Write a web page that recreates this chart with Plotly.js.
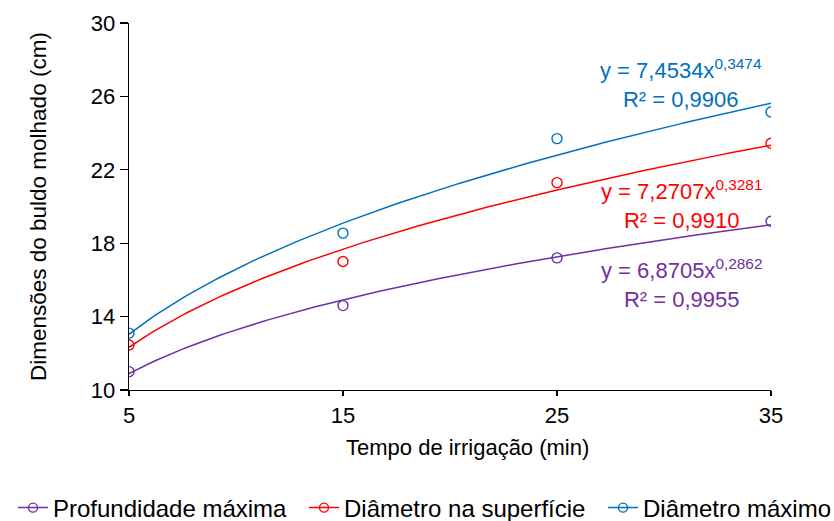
<!DOCTYPE html>
<html>
<head>
<meta charset="utf-8">
<script src="https://cdn.plot.ly/plotly-3.0.1.min.js"></script>
<style>html,body{margin:0;padding:0;background:#fff;}#chart{width:834px;height:521px;}</style>
</head>
<body>
<div id="chart"></div>
<script>
// Data
var tempo = [5, 15, 25, 35];
var profundidade = [11.0, 14.6, 17.2, 19.2];
var diametroSuperficie = [12.45, 17.0, 21.3, 23.45];
var diametroMaximo = [13.1, 18.55, 23.7, 25.15];

var seriesNames = ["Profundidade máxima", "Diâmetro na superfície", "Diâmetro máximo"];
// Power trendline coefficients shown on the chart (y = a x^b)
var coefA = [6.8705, 7.2707, 7.4534];
var coefB = [0.2862, 0.3281, 0.3474];
var r2Text = ["0,9955", "0,9910", "0,9906"];
var aText = ["6,8705", "7,2707", "7,4534"];
var bText = ["0,2862", "0,3281", "0,3474"];
var xTicks = [5, 15, 25, 35];
var yTicks = [10, 14, 18, 22, 26, 30];

var colors = ["#7030A0", "#FF0000", "#0070C0"];
var seriesValues = [profundidade, diametroSuperficie, diametroMaximo];
var FONT = "Liberation Sans, Arial, sans-serif";
var legendIds = ["legend", "legend2", "legend3"];

var traces = [];
var fitX = [];
for (var t = 5; t <= 35.0001; t += 0.25) fitX.push(t);

for (var i = 0; i < 3; i++) {
  var fy = fitX.map(function (x) { return coefA[i] * Math.pow(x, coefB[i]); });
  traces.push({
    x: fitX, y: fy, mode: "lines", type: "scatter",
    line: {color: colors[i], width: 1.5}, showlegend: false, hoverinfo: "skip"
  });
}
for (var i = 0; i < 3; i++) {
  traces.push({
    x: tempo, y: seriesValues[i], mode: "markers", type: "scatter",
    name: seriesNames[i],
    marker: {symbol: "circle-open", size: 10, color: colors[i], line: {width: 1.4, color: colors[i]}},
    showlegend: false
  });
}
// legend entries (line + marker), one legend per entry
for (var i = 0; i < 3; i++) {
  traces.push({
    x: [null], y: [null], mode: "lines+markers", type: "scatter",
    name: seriesNames[i], legend: legendIds[i],
    line: {color: colors[i], width: 1.5},
    marker: {symbol: "circle-open", size: 9, color: colors[i], line: {width: 1.4, color: colors[i]}},
    showlegend: true
  });
}

var eqPos = [
  {x: 30.8, y: 15.8},
  {x: 30.8, y: 20.1},
  {x: 30.8, y: 26.7}
];
var annotations = [];
for (var i = 0; i < 3; i++) {
  annotations.push({
    x: eqPos[i].x, y: eqPos[i].y, xref: "x", yref: "y",
    xanchor: "center", yanchor: "middle", align: "center", showarrow: false,
    text: "y = " + aText[i] + "x<sup>" + bText[i] + "</sup><br>R² = " + r2Text[i],
    font: {family: FONT, size: 22, color: colors[i]}
  });
}
annotations.push({
  x: 0.528, y: -0.158, xref: "paper", yref: "paper", xanchor: "center", yanchor: "middle",
  showarrow: false, text: "Tempo de irrigação (min)", font: {family: FONT, size: 22, color: "#000"}
});
annotations.push({
  x: -0.1417, y: 0.4986, xref: "paper", yref: "paper", xanchor: "center", yanchor: "middle",
  showarrow: false, textangle: -90, text: "Dimensões do buldo molhado (cm)",
  font: {family: FONT, size: 22.5, color: "#000"}
});

function legendAt(px) {
  return {
    orientation: "h", xref: "container", yref: "container",
    x: px / 834, xanchor: "left", y: (521 - 508) / 521, yanchor: "middle",
    font: {family: FONT, size: 24, color: "#000"},
    bgcolor: "rgba(0,0,0,0)", borderwidth: 0
  };
}

var layout = {
  width: 834, height: 521,
  margin: {l: 129, r: 63, t: 23, b: 131},
  paper_bgcolor: "#fff", plot_bgcolor: "#fff",
  font: {family: FONT, size: 22, color: "#000"},
  xaxis: {
    range: [5, 35], tickvals: xTicks, ticktext: xTicks.map(String),
    showgrid: false, zeroline: false, showline: true, linecolor: "#000", linewidth: 1.3,
    ticks: "outside", ticklen: 5, tickwidth: 1.3, tickcolor: "#000",
    tickfont: {family: FONT, size: 22, color: "#000"}
  },
  yaxis: {
    range: [10, 30], tickvals: yTicks, ticktext: yTicks.map(String),
    showgrid: false, zeroline: false, showline: true, linecolor: "#000", linewidth: 1.3,
    ticks: "outside", ticklen: 8, tickwidth: 1.3, tickcolor: "#000",
    tickfont: {family: FONT, size: 22, color: "#000"}
  },
  showlegend: true,
  legend: legendAt(13),
  legend2: legendAt(304),
  legend3: legendAt(603),
  annotations: annotations
};

Plotly.newPlot("chart", traces, layout, {displayModeBar: false, staticPlot: true});
</script>
</body>
</html>
